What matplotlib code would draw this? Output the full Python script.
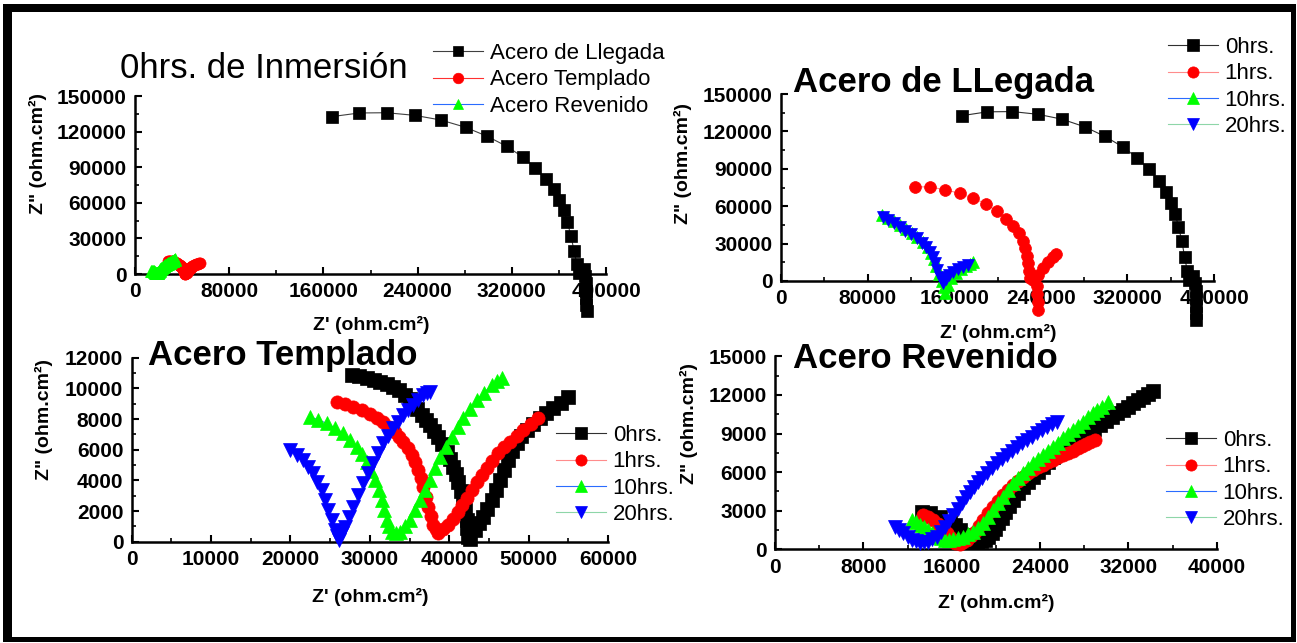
import numpy as np
import matplotlib
matplotlib.use("Agg")
import matplotlib.pyplot as plt
from matplotlib.patches import Rectangle
from matplotlib.ticker import MultipleLocator

plt.rcParams['font.family'] = ['Liberation Sans', 'DejaVu Sans']

W, H = 1297, 643

# ---------------- data ----------------
# Acero de Llegada, 0 hrs
lleg0_x = [167000, 190500, 213700, 237500, 259600, 280800, 299200, 315700, 329300, 340000,
           349100, 355600, 360400, 364100, 367200, 370300, 372800, 375300, 377200, 381000,
           382500, 383000, 383200, 383300, 383400, 383500]
lleg0_y = [132600, 135700, 135900, 133700, 129800, 123600, 116000, 107600, 98600, 89600,
           80300, 71600, 62600, 53900, 43600, 32000, 19600, 8200, 1000, 4000,
           -2000, -8000, -14000, -20000, -26000, -31500]

# Acero de Llegada, 1 hrs
lleg1_x = [123800, 137600, 151800, 165100, 177700, 189100, 199200, 207600, 214600, 219600,
           223300, 225700, 227500, 228500, 229400, 230000, 234500, 236500, 236800, 237000,
           237000, 233100, 237700, 242300, 246900, 251600, 254000]
lleg1_y = [75600, 75400, 73200, 70300, 66300, 62000, 56100, 50000, 44100, 38300,
           32100, 26200, 20100, 14200, 8300, 2200, 3000, -4000, -10500, -17000,
           -23500, 800, 4800, 10200, 15500, 19500, 21700]

# Acero de Llegada, 10 hrs
lleg10_x = [93000, 98500, 104000, 110000, 115500, 121000, 126000, 131000, 135500, 139000,
            141500, 143500, 146000, 148500, 150500, 151500, 154000, 157500, 161500, 166000,
            170500, 174500, 177700]
lleg10_y = [53000, 50500, 48000, 45000, 42000, 38500, 35000, 31000, 27000, 22500,
            17500, 12000, 6000, 0, -5000, -9900, -3000, 2500, 6500, 9500,
            12000, 14000, 15500]

# Acero de Llegada, 20 hrs
lleg20_x = [93900, 99000, 104000, 110000, 115000, 120000, 125300, 130000, 134000, 137600,
            140000, 142300, 144500, 146900, 148500, 150000, 152500, 155500, 159200, 163500,
            168400, 173000]
lleg20_y = [51600, 49000, 46500, 43600, 40500, 37500, 34200, 30500, 27000, 23500,
            19500, 14200, 9000, 3500, 500, -1900, 1500, 4500, 7500, 9500,
            11500, 12800]

# Acero Templado
temp0_x = [27700, 28600, 29600, 30500, 31300, 32200, 32950, 33700, 34430, 35000,
           35470, 36000, 36530, 37050, 37580, 38100, 38620, 39150, 39680, 40100,
           40510, 40830, 41140, 41450, 41770, 42000, 42200, 42300, 42400, 42600,
           43250, 43750, 44300, 44800, 45350, 45900, 46400, 46900, 47440, 47950,
           48500, 49100, 49760, 50600, 51430, 52250, 53110, 54050, 55000]
temp0_y = [10870, 10780, 10650, 10550, 10430, 10280, 10110, 9870, 9570, 9300,
           9030, 8650, 8260, 7930, 7610, 7250, 6850, 6380, 5870, 5380,
           4890, 4400, 3910, 3300, 2720, 2050, 1420, 870, 330, 200,
           760, 1200, 1630, 2150, 2720, 3380, 4020, 4680, 5330, 5900,
           6420, 6870, 7280, 7680, 8050, 8380, 8700, 9060, 9420]

temp1_x = [25830, 26850, 27920, 28950, 30020, 30850, 31700, 32450, 33170, 33700,
           34210, 34750, 35270, 35700, 36110, 36450, 36730, 37050, 37360, 37700,
           37990, 38300, 38620, 39250, 39880, 40500, 41140, 41650, 42200, 42850,
           43460, 44100, 44720, 45450, 46180, 46900, 47650, 48500, 49330, 50250,
           51220]
temp1_y = [9130, 8980, 8800, 8580, 8330, 8080, 7830, 7500, 7170, 6850,
           6520, 6080, 5650, 5170, 4680, 4150, 3590, 2930, 2280, 1680,
           1090, 800, 550, 800, 1090, 1500, 1960, 2400, 2830, 3370,
           3910, 4350, 4790, 5290, 5770, 6150, 6520, 6900, 7280, 7670,
           8050]

temp10_x = [22460, 23500, 24560, 25600, 26660, 27500, 28340, 29000, 29600, 30150,
            30650, 31100, 31490, 31800, 32120, 32450, 32750, 33300, 33800, 34450,
            35060, 35700, 36320, 36950, 37580, 38200, 38840, 39550, 40310, 41050,
            41770, 42600, 43460, 44400, 45350, 46000, 46610]
temp10_y = [8150, 7950, 7720, 7420, 7070, 6650, 6200, 5720, 5220, 4620,
            4020, 3370, 2720, 2070, 1420, 1000, 650, 600, 650, 1030,
            1420, 2070, 2720, 3370, 4020, 4780, 5540, 6200, 6850, 7450,
            8050, 8650, 9240, 9730, 10220, 10450, 10650]

temp20_x = [19940, 20800, 21620, 22250, 22880, 23400, 23930, 24350, 24770, 25200,
            25610, 25900, 26150, 26500, 26870, 27400, 27920, 28550, 29180, 29800,
            30440, 31050, 31700, 32300, 32950, 33600, 34210, 34850, 35470, 36100,
            36730, 37150, 37580]
temp20_y = [5980, 5660, 5330, 4900, 4460, 3920, 3370, 2720, 2070, 1420,
            760, 400, 110, 550, 980, 1630, 2280, 3040, 3800, 4460,
            5110, 5770, 6420, 6900, 7390, 7830, 8260, 8580, 8910, 9250,
            9570, 9680, 9780]

# Acero Revenido
rev0_x = [13280, 14040, 14940, 15850, 16300, 16750, 17130, 17510, 17900, 18270,
          18650, 19020, 19320, 19620, 19920, 20220, 20530, 20830, 21200, 21580,
          22030, 22490, 22940, 23390, 23850, 24300, 24750, 25200, 25730, 26260,
          26790, 27320, 27850, 28370, 28900, 29430, 29960, 30490, 31010, 31540,
          32000, 32450, 32900, 33350, 33800, 34260]
rev0_y = [2920, 2800, 2530, 2150, 1850, 1500, 1150, 850, 680, 590,
          620, 720, 950, 1240, 1600, 2020, 2470, 2920, 3380, 3830,
          4350, 4870, 5260, 5640, 6030, 6420, 6810, 7200, 7530, 7850,
          8170, 8490, 8750, 9010, 9330, 9660, 9990, 10310, 10570, 10830,
          11090, 11350, 11600, 11860, 12100, 12330]

rev1_x = [13430, 13880, 14330, 14790, 15240, 15550, 15850, 16080, 16300, 16750,
          17050, 17360, 17730, 18110, 18480, 18860, 19310, 19770, 20220, 20680,
          21130, 21580, 22040, 22490, 22940, 23390, 23850, 24300, 24750, 25200,
          25650, 26110, 26560, 27010, 27400, 27780, 28160, 28530, 28980]
rev1_y = [2670, 2480, 2280, 1960, 1630, 1300, 980, 720, 470, 410,
          560, 720, 1050, 1370, 1830, 2280, 2800, 3310, 3770, 4220,
          4610, 5000, 5320, 5640, 5900, 6160, 6360, 6550, 6750, 6940,
          7140, 7330, 7500, 7660, 7850, 8030, 8200, 8360, 8490]

rev10_x = [12380, 12750, 13130, 13500, 13880, 14260, 14640, 15020, 15400, 15780,
           16150, 16600, 17050, 17500, 17960, 18410, 18860, 19310, 19770, 20220,
           20680, 21130, 21580, 22040, 22490, 22940, 23390, 23850, 24300, 24750,
           25200, 25650, 26110, 26560, 27010, 27460, 27920, 28370, 28820, 29200,
           29580, 30180]
rev10_y = [2280, 2090, 1890, 1700, 1500, 1240, 980, 850, 720, 750,
           780, 880, 980, 1170, 1370, 1690, 2020, 2540, 3050, 3570,
           4090, 4610, 5130, 5520, 5900, 6290, 6680, 7010, 7330, 7650,
           7970, 8300, 8630, 8950, 9270, 9600, 9920, 10250, 10570, 10830,
           11080, 11470]

rev20_x = [10870, 11250, 11620, 12000, 12380, 12750, 13130, 13500, 13880, 14260,
           14640, 15020, 15400, 15780, 16150, 16530, 16900, 17280, 17660, 18030,
           18410, 18790, 19170, 19620, 20080, 20530, 20980, 21430, 21890, 22340,
           22790, 23240, 23700, 24150, 24600, 25050, 25510]
rev20_y = [1760, 1500, 1240, 980, 720, 610, 510, 550, 590, 780,
           980, 1370, 1760, 2220, 2670, 3130, 3580, 4030, 4480, 4870,
           5250, 5580, 5900, 6290, 6680, 7010, 7330, 7650, 7970, 8230,
           8490, 8750, 9010, 9270, 9530, 9730, 9920]

hour_labels = ['0hrs.', '1hrs.', '10hrs.', '20hrs.']
steel_labels = ['Acero de Llegada', 'Acero Templado', 'Acero Revenido']

# styles: (line colour, marker, marker colour)
hour_styles = [('#303030', 's', '#000000'), ('#ff8c8c', 'o', '#ff0000'),
               ('#2a6cff', '^', '#00ff00'), ('#8ed6a8', 'v', '#0000ff')]
steel_styles = [('#404040', 's', '#000000'), ('#ff3030', 'o', '#ff0000'),
                ('#2a6cff', '^', '#00ff00')]


def fx(px):
    return px / W


def fy(py):
    return 1 - py / H


def make_axes(l, t, r, b):
    return fig.add_axes([l / W, 1 - b / H, (r - l) / W, (b - t) / H])


def style_axes(ax, xmax, xmaj, ymax, ymaj):
    ax.set_xlim(0, xmax)
    ax.set_ylim(0, ymax)
    ax.xaxis.set_major_locator(MultipleLocator(xmaj))
    ax.xaxis.set_minor_locator(MultipleLocator(xmaj / 2))
    ax.yaxis.set_major_locator(MultipleLocator(ymaj))
    ax.yaxis.set_minor_locator(MultipleLocator(ymaj / 2))
    for s in ['top', 'right']:
        ax.spines[s].set_visible(False)
    for s in ['left', 'bottom']:
        ax.spines[s].set_linewidth(1.8)
    ax.tick_params(which='major', direction='in', length=5, width=1.5, pad=6,
                   labelsize=15)
    ax.tick_params(which='minor', direction='in', length=3, width=1.2)
    for lab in ax.get_xticklabels() + ax.get_yticklabels():
        lab.set_fontweight('bold')
    ax.patch.set_alpha(0)


def draw(ax, xs, ys, style, label, ms=9.5):
    lc, mk, mc = style
    ax.plot(xs, ys, color=lc, lw=0.8, marker=mk, ms=ms, mfc=mc, mec=mc,
            mew=0.5, label=label, clip_on=False, zorder=3)


def legend(ax, left, top, mscale=0.85):
    ax.legend(loc='upper left', bbox_to_anchor=(fx(left), fy(top)),
              bbox_transform=fig.transFigure, frameon=False, borderpad=0,
              borderaxespad=0, handlelength=2.25, handletextpad=0.3,
              labelspacing=0.24, prop={'size': 16}, markerscale=mscale)


fig = plt.figure(figsize=(W / 100, H / 100), dpi=100)
fig.patch.set_facecolor('white')

# outer black frame
for (l, t, r, b) in [(3, 4, 1296, 12), (3, 4, 12, 642), (1291, 4, 1296, 642), (3, 637, 1296, 642)]:
    fig.add_artist(Rectangle((fx(l), fy(b)), (r - l) / W, (b - t) / H,
                             transform=fig.transFigure, color='black', lw=0))

# ---- panel 1: 0hrs de Inmersion ----
ax1 = make_axes(135, 96, 606, 274)
style_axes(ax1, 400000, 80000, 150000, 30000)
draw(ax1, lleg0_x, lleg0_y, steel_styles[0], steel_labels[0], ms=8)
draw(ax1, temp0_x, temp0_y, steel_styles[1], steel_labels[1], ms=8)
draw(ax1, rev0_x, rev0_y, steel_styles[2], steel_labels[2], ms=8)
legend(ax1, 433, 43, 0.95)
fig.text(fx(120), fy(78), '0hrs. de Inmersión', fontsize=25, va='baseline')
fig.text(fx(371), fy(325), "Z' (ohm.cm²)", fontsize=14, fontweight='bold', ha='center', va='center')
fig.text(fx(38), fy(154), 'Z" (ohm.cm²)', fontsize=14, fontweight='bold', ha='center', va='center', rotation=90)

# ---- panel 2: Acero de Llegada ----
ax2 = make_axes(781, 94, 1214, 281)
style_axes(ax2, 400000, 80000, 150000, 30000)
for xs, ys, st, lb in zip([lleg0_x, lleg1_x, lleg10_x, lleg20_x],
                          [lleg0_y, lleg1_y, lleg10_y, lleg20_y], hour_styles, hour_labels):
    draw(ax2, xs, ys, st, lb, ms=8.5)
legend(ax2, 1168, 37, 0.95)
fig.text(fx(793), fy(92), 'Acero de LLegada', fontsize=25, fontweight='bold', va='baseline')
fig.text(fx(998), fy(333), "Z' (ohm.cm²)", fontsize=14, fontweight='bold', ha='center', va='center')
fig.text(fx(683), fy(164), 'Z" (ohm.cm²)', fontsize=14, fontweight='bold', ha='center', va='center', rotation=90)

# ---- panel 3: Acero Templado ----
ax3 = make_axes(131.7, 357.7, 608, 541.7)
style_axes(ax3, 60000, 10000, 12000, 2000)
for xs, ys, st, lb in zip([temp0_x, temp1_x, temp10_x, temp20_x],
                          [temp0_y, temp1_y, temp10_y, temp20_y], hour_styles, hour_labels):
    draw(ax3, xs, ys, st, lb)
legend(ax3, 556, 425)
fig.text(fx(148), fy(365), 'Acero Templado', fontsize=25, fontweight='bold', va='baseline')
fig.text(fx(370), fy(597), "Z' (ohm.cm²)", fontsize=14, fontweight='bold', ha='center', va='center')
fig.text(fx(44), fy(420), 'Z" (ohm.cm²)', fontsize=14, fontweight='bold', ha='center', va='center', rotation=90)

# ---- panel 4: Acero Revenido ----
ax4 = make_axes(775, 356.3, 1216.7, 549.3)
style_axes(ax4, 40000, 8000, 15000, 3000)
for xs, ys, st, lb in zip([rev0_x, rev1_x, rev10_x, rev20_x],
                          [rev0_y, rev1_y, rev10_y, rev20_y], hour_styles, hour_labels):
    draw(ax4, xs, ys, st, lb)
legend(ax4, 1166, 430)
fig.text(fx(793), fy(368), 'Acero Revenido', fontsize=25, fontweight='bold', va='baseline')
fig.text(fx(996), fy(603), "Z' (ohm.cm²)", fontsize=14, fontweight='bold', ha='center', va='center')
fig.text(fx(689), fy(423), 'Z" (ohm.cm²)', fontsize=14, fontweight='bold', ha='center', va='center', rotation=90)

fig.savefig('out.png', dpi=100)
